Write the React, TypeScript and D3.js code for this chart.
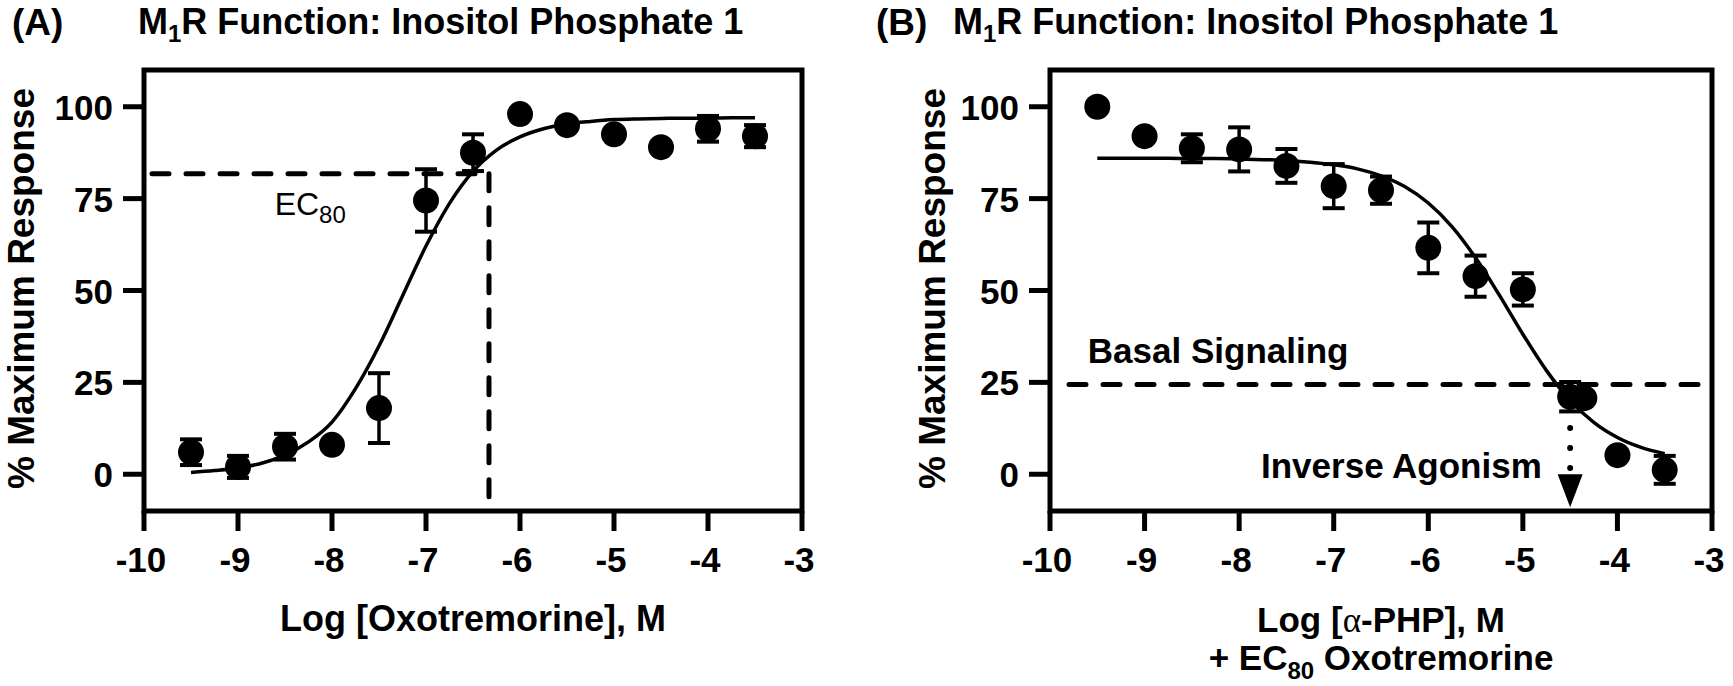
import React from 'react';
import * as d3 from 'd3';

// ---------- data ----------
const xTicks = [-10, -9, -8, -7, -6, -5, -4, -3];
const yTicks = [0, 25, 50, 75, 100];

// Panel A: Oxotremorine
const logOxo = [-9.5, -9, -8.5, -8, -7.5, -7, -6.5, -6, -5.5, -5, -4.5, -4, -3.5];
const respA = [6, 2, 7.5, 8, 18, 74.5, 87.5, 98, 95, 92.5, 89, 94, 92];
const semA = [3.5, 3, 3.5, 0, 9.5, 8.5, 5, 0, 0, 0, 0, 3.5, 3];
const fitAx = [-9.5, -9.25, -9, -8.75, -8.5, -8.25, -8, -7.75, -7.5, -7.25, -7, -6.75, -6.5, -6.25, -6, -5.75, -5.5, -5.25, -5, -4.75, -4.5, -4.25, -4, -3.75, -3.5];
const fitAy = [0.5, 1.0, 1.7, 3.0, 5.2, 8.8, 14.2, 23.3, 34.9, 48.5, 62.1, 73.7, 82.4, 88.2, 91.8, 94.0, 95.3, 96.0, 96.5, 96.7, 96.8, 96.9, 96.9, 97.0, 97.0];

// Panel B: alpha-PHP + EC80 Oxotremorine
const logPHP = [-9.5, -9, -8.5, -8, -7.5, -7, -6.5, -6, -5.5, -5, -4.5, -4.35, -4, -3.5];
const respB = [100, 92, 88.7, 88.4, 83.9, 78.4, 77.3, 61.6, 53.9, 50.3, 21.1, 20.7, 5.2, 1.2];
const semB = [0, 0, 3.8, 6, 4.6, 6, 3.7, 6.9, 5.6, 4.4, 4, 0, 0, 3.8];
const fitBx = [-9.5, -9.25, -9, -8.75, -8.5, -8.25, -8, -7.75, -7.5, -7.25, -7, -6.75, -6.5, -6.25, -6, -5.75, -5.5, -5.25, -5, -4.75, -4.5, -4.25, -4, -3.75, -3.5];
const fitBy = [86.0, 86.0, 86.0, 86.0, 85.9, 85.9, 85.8, 85.6, 85.4, 84.9, 84.2, 83.1, 81.2, 78.3, 73.8, 67.4, 58.9, 48.8, 38.1, 28.2, 20.1, 14.1, 10.0, 7.3, 5.6];

// annotations (data units)
const ec80Level = 81.8;
const ec80Log = -6.33;
const basalLevel = 24.4;
const arrowLog = -4.5;
const arrowFrom = 18;
const arrowTo = -9;

// ---------- layout ----------
const W = 1733;
const H = 686;
const FONT = "'Liberation Sans', Arial, Helvetica, sans-serif";
const TOP = 70;
const BOTTOM = 511;

type PanelProps = {
  left: number;
  right: number;
  yLabelX: number;
  children: (x: d3.ScaleLinear<number, number>, y: d3.ScaleLinear<number, number>) => React.ReactNode;
};

function Panel({ left, right, yLabelX, children }: PanelProps) {
  const x = d3.scaleLinear().domain([-10, -3]).range([left, right]);
  const y = d3.scaleLinear().domain([-10, 110]).range([BOTTOM, TOP]);
  const cy = (TOP + BOTTOM) / 2 - 2;
  return (
    <g>
      {children(x, y)}
      {/* frame */}
      <rect x={left} y={TOP} width={right - left} height={BOTTOM - TOP} fill="none" stroke="#000" strokeWidth={5} />
      {/* y ticks */}
      {yTicks.map((t) => (
        <g key={'y' + t}>
          <line x1={left - 21} x2={left} y1={y(t)} y2={y(t)} stroke="#000" strokeWidth={5} />
          <text x={left - 31} y={y(t) + 13} textAnchor="end" fontSize={35} fontWeight="bold" fontFamily={FONT}>
            {t}
          </text>
        </g>
      ))}
      {/* x ticks */}
      {xTicks.map((t) => (
        <g key={'x' + t}>
          <line x1={x(t)} x2={x(t)} y1={BOTTOM} y2={BOTTOM + 20} stroke="#000" strokeWidth={5} />
          <text x={x(t) - 3} y={BOTTOM + 61} textAnchor="middle" fontSize={35} fontWeight="bold" fontFamily={FONT}>
            {t}
          </text>
        </g>
      ))}
      <text
        transform={`translate(${yLabelX},${cy}) rotate(-90)`}
        textAnchor="middle"
        fontSize={37}
        fontWeight="bold"
        fontFamily={FONT}
      >
        % Maximum Response
      </text>
    </g>
  );
}

function Series({
  x,
  y,
  xs,
  ys,
  es,
  fx,
  fy,
}: {
  x: d3.ScaleLinear<number, number>;
  y: d3.ScaleLinear<number, number>;
  xs: number[];
  ys: number[];
  es: number[];
  fx: number[];
  fy: number[];
}) {
  const line = d3
    .line<number>()
    .x((_, i) => x(fx[i]))
    .y((d) => y(d))
    .curve(d3.curveMonotoneX);
  return (
    <g>
      <path d={line(fy) || ''} fill="none" stroke="#000" strokeWidth={3.5} />
      {xs.map((v, i) => (
        <g key={i}>
          <line x1={x(v)} x2={x(v)} y1={y(ys[i] - es[i])} y2={y(ys[i] + es[i])} stroke="#000" strokeWidth={3.5} />
          <line x1={x(v) - 11} x2={x(v) + 11} y1={y(ys[i] - es[i])} y2={y(ys[i] - es[i])} stroke="#000" strokeWidth={4} />
          <line x1={x(v) - 11} x2={x(v) + 11} y1={y(ys[i] + es[i])} y2={y(ys[i] + es[i])} stroke="#000" strokeWidth={4} />
        </g>
      ))}
      {xs.map((v, i) => (
        <circle key={'c' + i} cx={x(v)} cy={y(ys[i])} r={13} fill="#000" />
      ))}
    </g>
  );
}

export default function App() {
  return (
    <svg width={W} height={H} style={{ position: 'absolute', left: 0, top: 0, background: '#fff' }}>
      <rect width={W} height={H} fill="#fff" />
      {/* titles */}
      <text x={12} y={35} fontSize={37} fontWeight="bold" fontFamily={FONT}>(A)</text>
      <text x={138} y={34} fontSize={36} fontWeight="bold" fontFamily={FONT}>
        M<tspan fontSize={24} dy={8}>1</tspan>
        <tspan dy={-8}>R Function: Inositol Phosphate 1</tspan>
      </text>
      <text x={876} y={35} fontSize={37} fontWeight="bold" fontFamily={FONT}>(B)</text>
      <text x={953} y={34} fontSize={36} fontWeight="bold" fontFamily={FONT}>
        M<tspan fontSize={24} dy={8}>1</tspan>
        <tspan dy={-8}>R Function: Inositol Phosphate 1</tspan>
      </text>

      {/* Panel A */}
      <Panel left={144} right={802} yLabelX={34}>
        {(x, y) => (
          <g>
            <line x1={x(-10) + 8} x2={x(ec80Log)} y1={y(ec80Level)} y2={y(ec80Level)} stroke="#000" strokeWidth={5} strokeDasharray="17 17" strokeLinecap="round" />
            <line x1={x(ec80Log)} x2={x(ec80Log)} y1={y(ec80Level)} y2={y(-10)} stroke="#000" strokeWidth={5} strokeDasharray="17 17" strokeLinecap="round" />
            <text x={x(-8.61)} y={y(70.5)} fontSize={32} fontFamily={FONT}>
              EC<tspan fontSize={24} dy={8}>80</tspan>
            </text>
            <Series x={x} y={y} xs={logOxo} ys={respA} es={semA} fx={fitAx} fy={fitAy} />
          </g>
        )}
      </Panel>
      <text x={473} y={631} textAnchor="middle" fontSize={36} fontWeight="bold" fontFamily={FONT}>
        Log [Oxotremorine], M
      </text>

      {/* Panel B */}
      <Panel left={1050} right={1712} yLabelX={945}>
        {(x, y) => (
          <g>
            <line x1={x(-10) + 19} x2={x(-3)} y1={y(basalLevel)} y2={y(basalLevel)} stroke="#000" strokeWidth={5} strokeDasharray="17 17" strokeLinecap="round" />
            <text x={x(-9.6)} y={y(30.2)} fontSize={35} fontWeight="bold" fontFamily={FONT}>Basal Signaling</text>
            <text x={x(-4.8)} y={y(-1)} textAnchor="end" fontSize={35} fontWeight="bold" fontFamily={FONT}>Inverse Agonism</text>
            <Series x={x} y={y} xs={logPHP} ys={respB} es={semB} fx={fitBx} fy={fitBy} />
            <line x1={x(arrowLog)} x2={x(arrowLog)} y1={y(arrowFrom)} y2={y(0) - 4} stroke="#000" strokeWidth={6} strokeDasharray="0 20" strokeLinecap="round" />
            <path
              d={`M${x(arrowLog) - 12.5},${y(0)} L${x(arrowLog) + 12.5},${y(0)} L${x(arrowLog)},${y(arrowTo)} Z`}
              fill="#000"
            />
          </g>
        )}
      </Panel>
      <text x={1381} y={632} textAnchor="middle" fontSize={35} fontWeight="bold" fontFamily={FONT}>
        Log [<tspan fontFamily="'Liberation Serif', 'Times New Roman', serif" fontWeight="normal">α</tspan>-PHP], M
      </text>
      <text x={1381} y={670} textAnchor="middle" fontSize={35} fontWeight="bold" fontFamily={FONT}>
        + EC<tspan fontSize={24} dy={9}>80</tspan>
        <tspan dy={-9}> Oxotremorine</tspan>
      </text>
    </svg>
  );
}
